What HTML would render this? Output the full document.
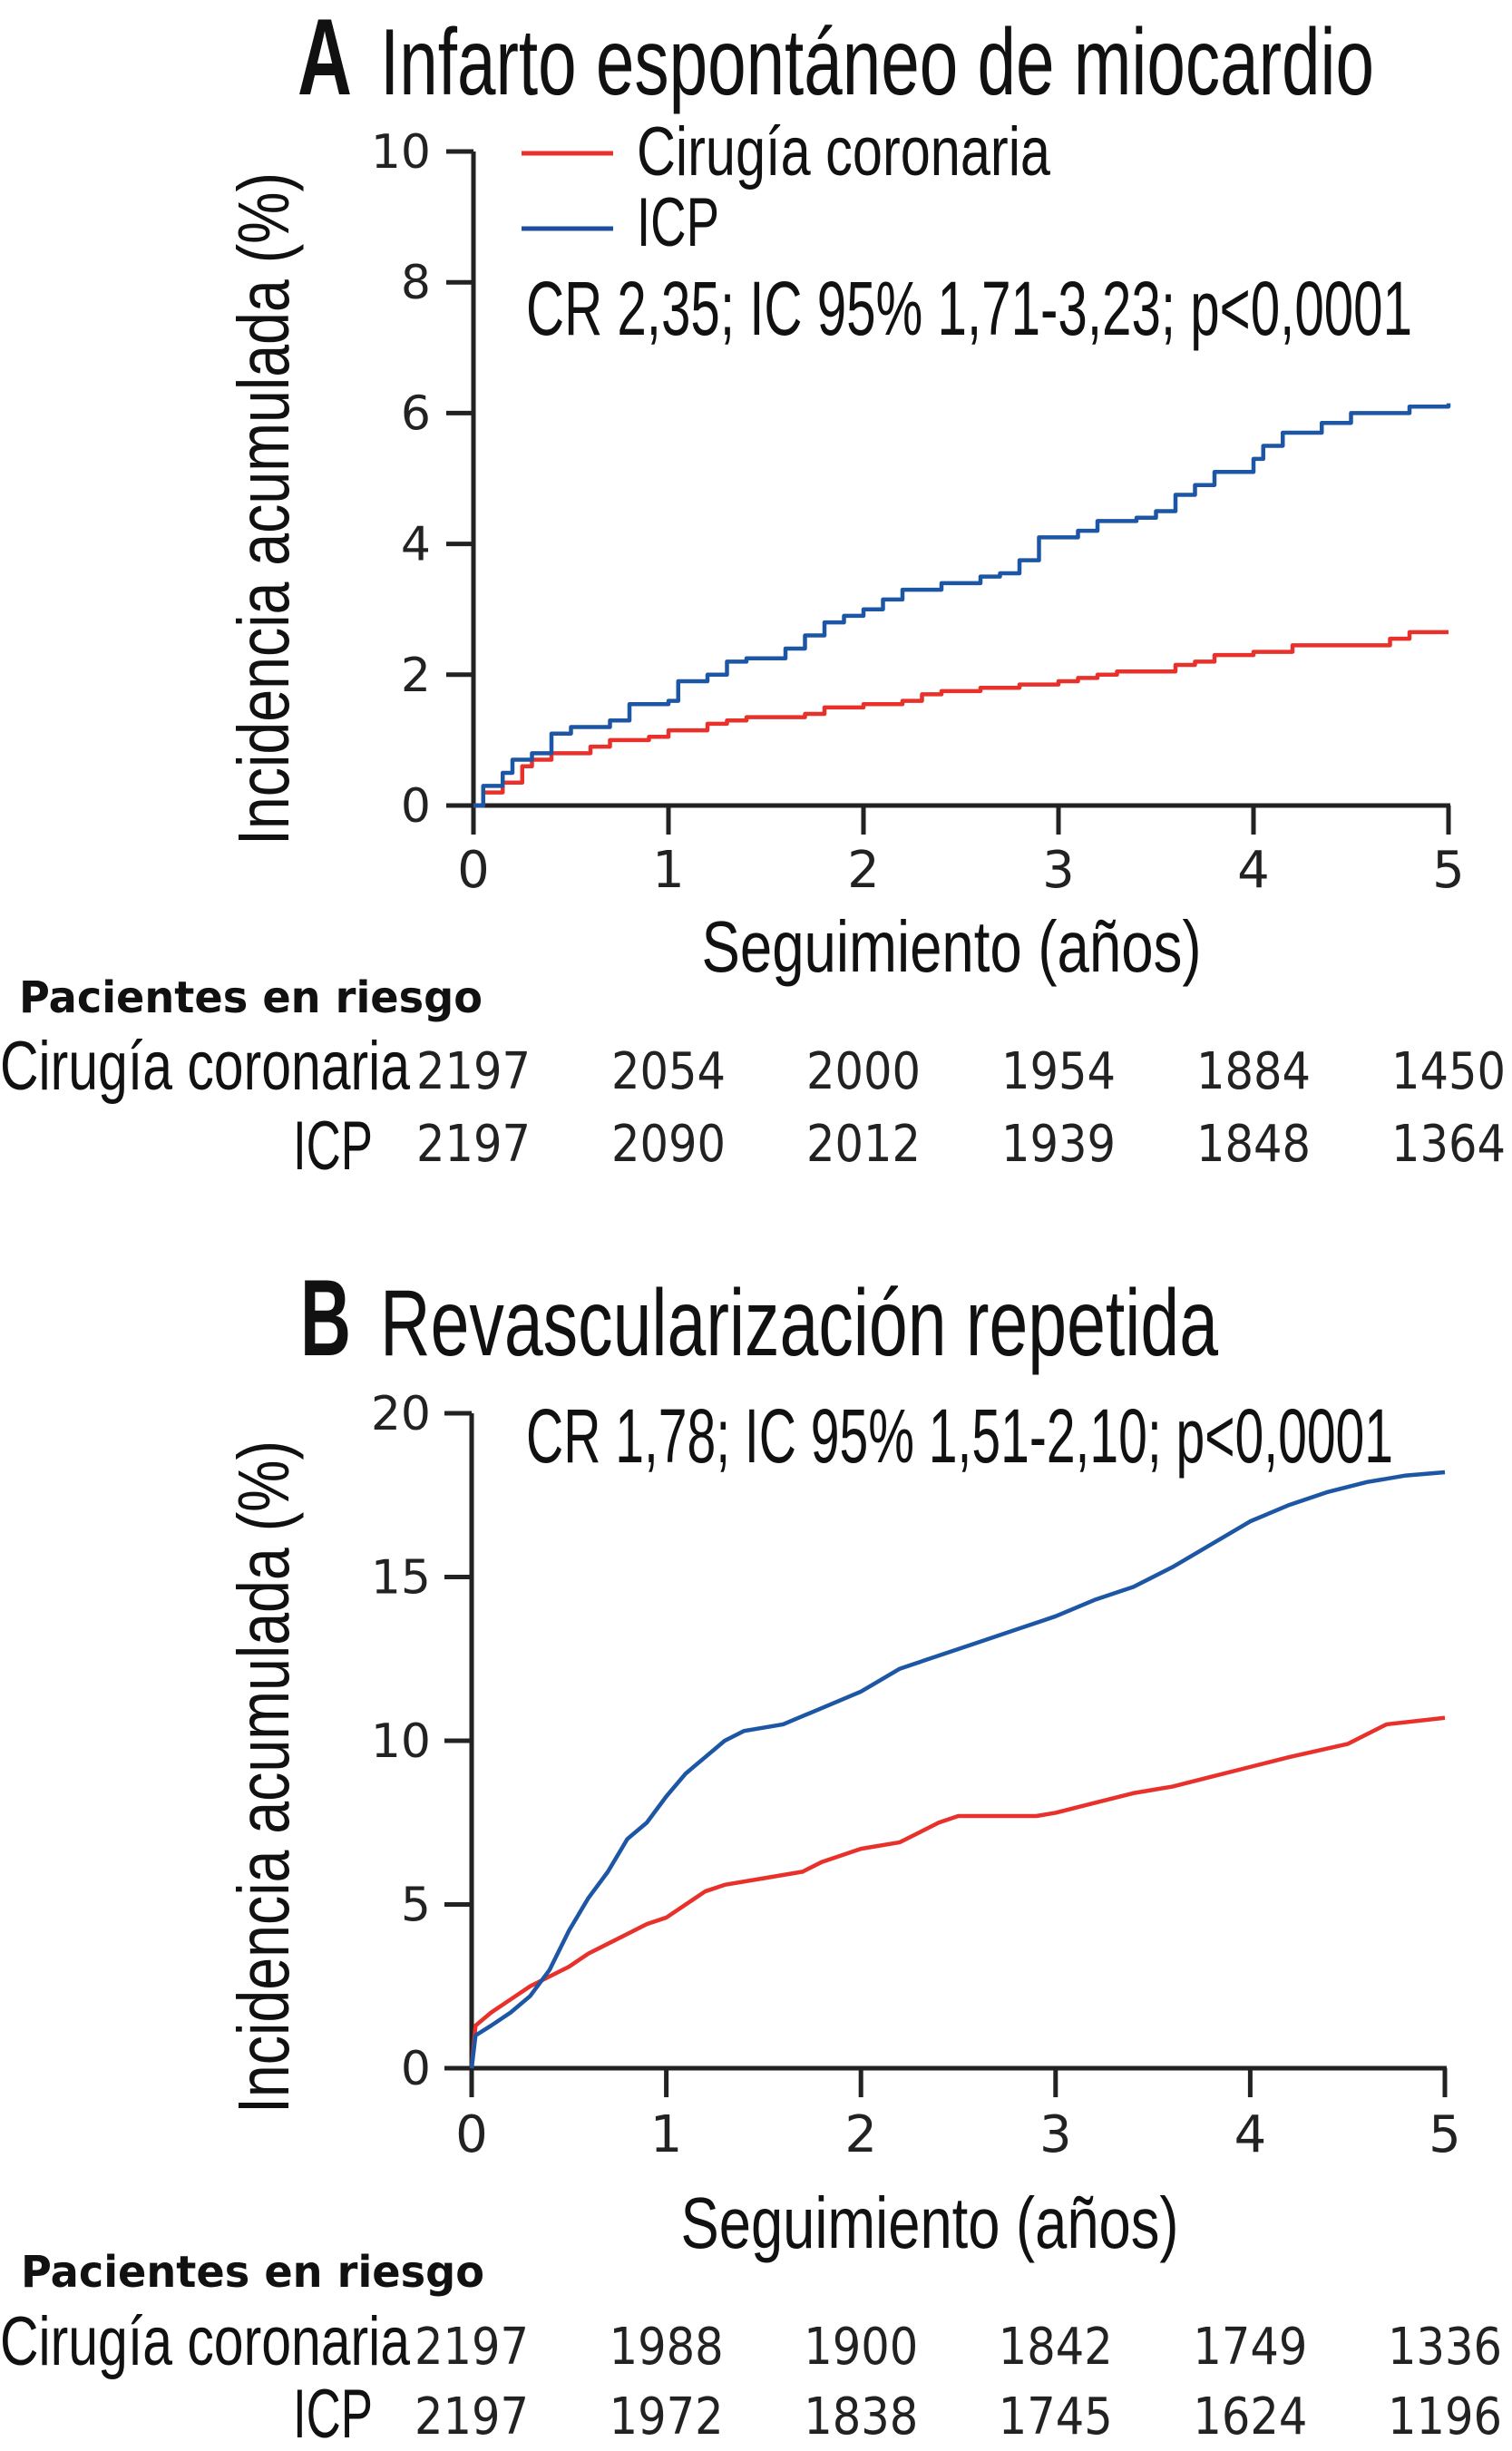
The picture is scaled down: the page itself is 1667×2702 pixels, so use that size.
<!DOCTYPE html>
<html><head><meta charset="utf-8"><style>
html,body{margin:0;padding:0;background:#fff;}
svg{display:block;}
.cond{font-family:"Liberation Sans Narrow","Liberation Sans",sans-serif;fill:#111;}
.tick{font-family:"DejaVu Sans","Liberation Sans",sans-serif;fill:#222;font-weight:normal;}
</style></head><body>
<svg id="fig" width="1667" height="2702" viewBox="0 0 1667 2702" xmlns="http://www.w3.org/2000/svg">
<g id="panelA">
<text class="cond" x="328" y="104" font-size="120" font-weight="bold" textLength="60" lengthAdjust="spacingAndGlyphs">A</text>
<text class="cond" x="419" y="104" font-size="104" textLength="1096" lengthAdjust="spacingAndGlyphs">Infarto espontáneo de miocardio</text>
<line x1="575" y1="169" x2="676" y2="169" stroke="#e8312b" stroke-width="5"/>
<text class="cond" x="702" y="193" font-size="76" textLength="456" lengthAdjust="spacingAndGlyphs">Cirugía coronaria</text>
<line x1="575" y1="252" x2="676" y2="252" stroke="#1d4f9c" stroke-width="5"/>
<text class="cond" x="702" y="271" font-size="76" textLength="91" lengthAdjust="spacingAndGlyphs">ICP</text>
<text class="cond" x="580" y="369" font-size="84" textLength="977" lengthAdjust="spacingAndGlyphs">CR 2,35; IC 95% 1,71-3,23; p&lt;0,0001</text>
<text class="cond" transform="translate(318,561) rotate(-90)" text-anchor="middle" font-size="80" textLength="742" lengthAdjust="spacingAndGlyphs">Incidencia acumulada (%)</text>
<text class="cond" x="1049" y="1071" text-anchor="middle" font-size="80" textLength="551" lengthAdjust="spacingAndGlyphs">Seguimiento (años)</text>
<text x="21" y="1116" font-family="'DejaVu Sans','Liberation Sans',sans-serif" font-weight="bold" font-size="48" fill="#111" textLength="511" lengthAdjust="spacingAndGlyphs">Pacientes en riesgo</text>
<text class="cond" x="0" y="1201" font-size="76" textLength="452" lengthAdjust="spacingAndGlyphs">Cirugía coronaria</text>
<text class="cond" x="411" y="1289" text-anchor="end" font-size="76" textLength="88" lengthAdjust="spacingAndGlyphs">ICP</text>
</g>
<g id="panelB">
<text class="cond" x="331" y="1494" font-size="120" font-weight="bold" textLength="56" lengthAdjust="spacingAndGlyphs">B</text>
<text class="cond" x="419" y="1494" font-size="104" textLength="924" lengthAdjust="spacingAndGlyphs">Revascularización repetida</text>
<text class="cond" x="580" y="1612" font-size="84" textLength="956" lengthAdjust="spacingAndGlyphs">CR 1,78; IC 95% 1,51-2,10; p&lt;0,0001</text>
<text class="cond" transform="translate(318,1959) rotate(-90)" text-anchor="middle" font-size="80" textLength="742" lengthAdjust="spacingAndGlyphs">Incidencia acumulada (%)</text>
<text class="cond" x="1025" y="2478" text-anchor="middle" font-size="80" textLength="549" lengthAdjust="spacingAndGlyphs">Seguimiento (años)</text>
<text x="23" y="2521" font-family="'DejaVu Sans','Liberation Sans',sans-serif" font-weight="bold" font-size="48" fill="#111" textLength="511" lengthAdjust="spacingAndGlyphs">Pacientes en riesgo</text>
<text class="cond" x="0" y="2607" font-size="76" textLength="452" lengthAdjust="spacingAndGlyphs">Cirugía coronaria</text>
<text class="cond" x="411" y="2687" text-anchor="end" font-size="76" textLength="88" lengthAdjust="spacingAndGlyphs">ICP</text>
</g>
</svg>
<script>
// Panel A data
const xTicks = [0,1,2,3,4,5];
const aYTicks = [0,2,4,6,8,10];
const aBlueT = [0,0.05,0.15,0.2,0.3,0.4,0.5,0.7,0.8,1.0,1.05,1.2,1.3,1.4,1.6,1.7,1.8,1.9,2.0,2.1,2.2,2.4,2.6,2.7,2.8,2.9,3.1,3.2,3.4,3.5,3.6,3.7,3.8,4.0,4.05,4.15,4.35,4.5,4.8,5.0];
const aBlueY = [0,0.3,0.5,0.7,0.8,1.1,1.2,1.3,1.55,1.6,1.9,2.0,2.2,2.25,2.4,2.6,2.8,2.9,3.0,3.15,3.3,3.4,3.5,3.55,3.75,4.1,4.2,4.35,4.4,4.5,4.75,4.9,5.1,5.3,5.5,5.7,5.85,6.0,6.1,6.15];
const aRedT = [0,0.05,0.15,0.25,0.3,0.4,0.6,0.7,0.9,1.0,1.2,1.3,1.4,1.7,1.8,2.0,2.2,2.3,2.4,2.6,2.8,3.0,3.1,3.2,3.3,3.6,3.7,3.8,4.0,4.2,4.7,4.8,5.0];
const aRedY = [0,0.2,0.35,0.6,0.7,0.8,0.9,1.0,1.05,1.15,1.25,1.3,1.35,1.4,1.5,1.55,1.6,1.7,1.75,1.8,1.85,1.9,1.95,2.0,2.05,2.15,2.2,2.3,2.35,2.45,2.55,2.65,2.65];
const aRiskCirugia = ["2197","2054","2000","1954","1884","1450"];
const aRiskIcp = ["2197","2090","2012","1939","1848","1364"];
// Panel B data
const bYTicks = [0,5,10,15,20];
const bBlueT = [0,0.02,0.1,0.2,0.3,0.4,0.5,0.6,0.7,0.8,0.9,1.0,1.1,1.2,1.3,1.4,1.6,1.8,2.0,2.2,2.4,2.6,2.8,3.0,3.2,3.4,3.6,3.8,4.0,4.2,4.4,4.6,4.8,5.0];
const bBlueY = [0,1.0,1.3,1.7,2.2,3.0,4.2,5.2,6.0,7.0,7.5,8.3,9.0,9.5,10.0,10.3,10.5,11.0,11.5,12.2,12.6,13.0,13.4,13.8,14.3,14.7,15.3,16.0,16.7,17.2,17.6,17.9,18.1,18.2];
const bRedT = [0,0.02,0.1,0.2,0.3,0.4,0.5,0.6,0.7,0.8,0.9,1.0,1.1,1.2,1.3,1.5,1.7,1.8,2.0,2.2,2.3,2.4,2.5,2.9,3.0,3.2,3.4,3.6,3.8,4.0,4.2,4.5,4.6,4.7,5.0];
const bRedY = [0,1.3,1.7,2.1,2.5,2.8,3.1,3.5,3.8,4.1,4.4,4.6,5.0,5.4,5.6,5.8,6.0,6.3,6.7,6.9,7.2,7.5,7.7,7.7,7.8,8.1,8.4,8.6,8.9,9.2,9.5,9.9,10.2,10.5,10.7];
const bRiskCirugia = ["2197","1988","1900","1842","1749","1336"];
const bRiskIcp = ["2197","1972","1838","1745","1624","1196"];

const NS="http://www.w3.org/2000/svg";
function mk(parent,tag,attrs){const e=document.createElementNS(NS,tag);for(const k in attrs)e.setAttribute(k,attrs[k]);parent.appendChild(e);return e;}

function drawPanel(g,cfg){
  const sx=v=>cfg.x0+(cfg.x1-cfg.x0)*v/5;
  const sy=v=>cfg.y0-(cfg.y0-cfg.yTop)*v/cfg.yMax;
  const yAx=mk(g,'line',{x1:cfg.x0,y1:cfg.y0+2,x2:cfg.x0,y2:sy(cfg.yMax),stroke:'#222','stroke-width':5});
  
  
  const xAx=mk(g,'line',{x1:cfg.x0-30,y1:cfg.y0,x2:cfg.x1+2,y2:cfg.y0,stroke:'#222','stroke-width':5});
  
  
  cfg.yTicks.forEach(v=>{
    const t=mk(g,'line',{x1:cfg.x0-30,y1:sy(v),x2:cfg.x0,y2:sy(v),stroke:'#222','stroke-width':5});
    
    
    const l=mk(g,'text',{x:475,y:sy(v)+18,'text-anchor':'end','font-size':52,class:'tick'});
    l.textContent=String(v);
    
    
  });
  xTicks.forEach((v,i)=>{
    const t=mk(g,'line',{x1:sx(v),y1:cfg.y0,x2:sx(v),y2:cfg.y0+32,stroke:'#222','stroke-width':5});
    
    
    const l=mk(g,'text',{x:sx(v),y:cfg.xLabY,'text-anchor':'middle','font-size':56,class:'tick'});
    l.textContent=String(v);
    
    
    const r1=mk(g,'text',{x:sx(v),y:cfg.r1Y,'text-anchor':'middle','font-size':56,class:'tick',textLength:126,lengthAdjust:'spacingAndGlyphs'});
    r1.textContent=cfg.risk1[i];
    
    
    const r2=mk(g,'text',{x:sx(v),y:cfg.r2Y,'text-anchor':'middle','font-size':56,class:'tick',textLength:126,lengthAdjust:'spacingAndGlyphs'});
    r2.textContent=cfg.risk2[i];
    
    
  });
  function curve(ts,ys,color,name){
    let d='M'+sx(ts[0])+','+sy(ys[0]);
    for(let i=1;i<ts.length;i++){
      if(cfg.stepped) d+=' H'+sx(ts[i])+' V'+sy(ys[i]);
      else d+=' L'+sx(ts[i])+','+sy(ys[i]);
    }
    const p=mk(g,'path',{d:d,fill:'none',stroke:color,'stroke-width':4.5,'stroke-linejoin':'round'});
    
    
  }
  curve(cfg.redT,cfg.redY,'#e8312b','series-cirugia-coronaria');
  curve(cfg.blueT,cfg.blueY,'#1d56a5','series-icp');
}
drawPanel(document.getElementById('panelA'),{stepped:true,x0:522,x1:1597,y0:888,yTop:167,yMax:10,yTicks:aYTicks,xLabY:978,r1Y:1200,r2Y:1280,risk1:aRiskCirugia,risk2:aRiskIcp,redT:aRedT,redY:aRedY,blueT:aBlueT,blueY:aBlueY});
drawPanel(document.getElementById('panelB'),{stepped:false,x0:520,x1:1593,y0:2280,yTop:1558,yMax:20,yTicks:bYTicks,xLabY:2372,r1Y:2606,r2Y:2683,risk1:bRiskCirugia,risk2:bRiskIcp,redT:bRedT,redY:bRedY,blueT:bBlueT,blueY:bBlueY});
</script>
</body></html>
